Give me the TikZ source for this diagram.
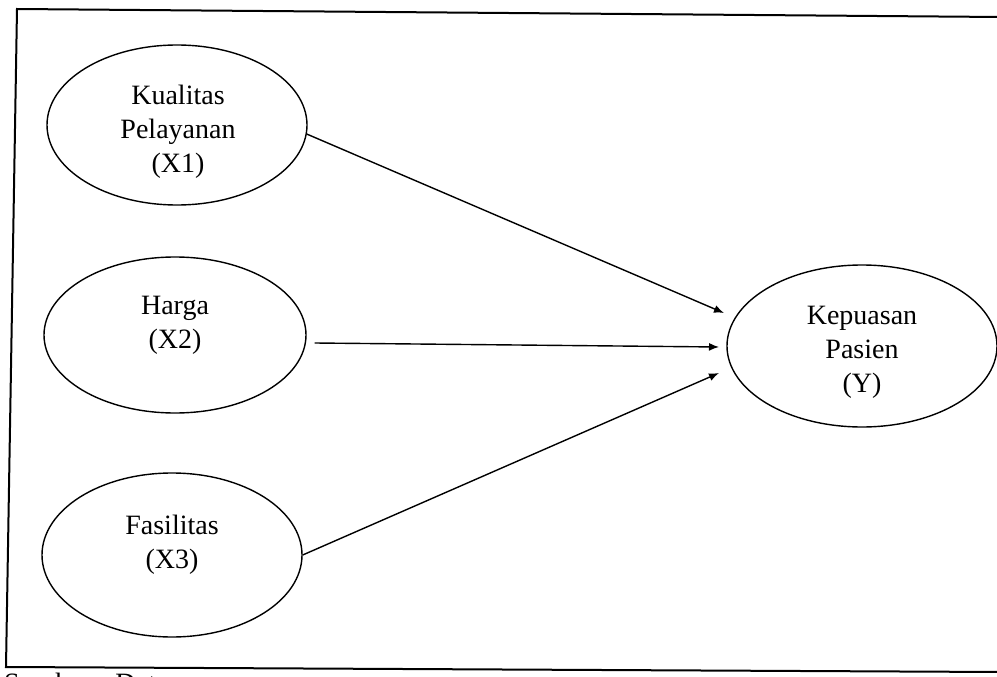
\documentclass[tikz,border=0pt]{standalone}
\usepackage{fontspec}
\setmainfont{Liberation Serif}
\usetikzlibrary{shapes.geometric,arrows.meta}
\begin{document}
\begin{tikzpicture}[x=1pt,y=-1pt,
  ell/.style={draw, ellipse, line width=1.4pt, inner sep=0pt},
  lbl/.style={align=center, font=\fontsize{28}{34}\selectfont, inner sep=0pt},
  arr/.style={line width=1.4pt, -{Latex[length=10pt,width=8pt]}},
  framebox/.style={line width=2pt}]
\clip (0,0) rectangle (997,677);
\fill[white] (0,0) rectangle (997,677);
% frame
\draw[framebox] (1000,17) -- (17,9) -- (6,667) -- (1000,672);
% ellipses
\node[ell, minimum width=260pt, minimum height=160pt] (x1) at (177,125) {};
\node[ell, minimum width=262pt, minimum height=156pt] (x2) at (175,335) {};
\node[ell, minimum width=260pt, minimum height=164pt] (x3) at (172,555) {};
\node[ell, minimum width=270pt, minimum height=162pt] (y) at (862,346) {};
% labels
\node[lbl] (tx1) at (178,132) {Kualitas\\Pelayanan\\(X1)};
\node[lbl] (tx2) at (175,325) {Harga\\(X2)};
\node[lbl] (tx3) at (172,545) {Fasilitas\\(X3)};
\node[lbl] (ty) at (862,352) {Kepuasan\\Pasien\\(Y)};
% arrow ends
\coordinate (t1) at (724,313);
\coordinate (t2) at (719,347);
\coordinate (t3) at (719,373);
\draw[arr] (x1.-4) -- (t1);
\draw[arr] ([xshift=8pt,yshift=-8pt]x2.east) -- (t2);
\draw[arr] (x3.east) -- (t3);
% source line (cut off)
\node[anchor=base west, font=\fontsize{28}{34}\selectfont, inner sep=0pt] (src) at (4,692) {Sumber : Data};
\end{tikzpicture}
\end{document}
